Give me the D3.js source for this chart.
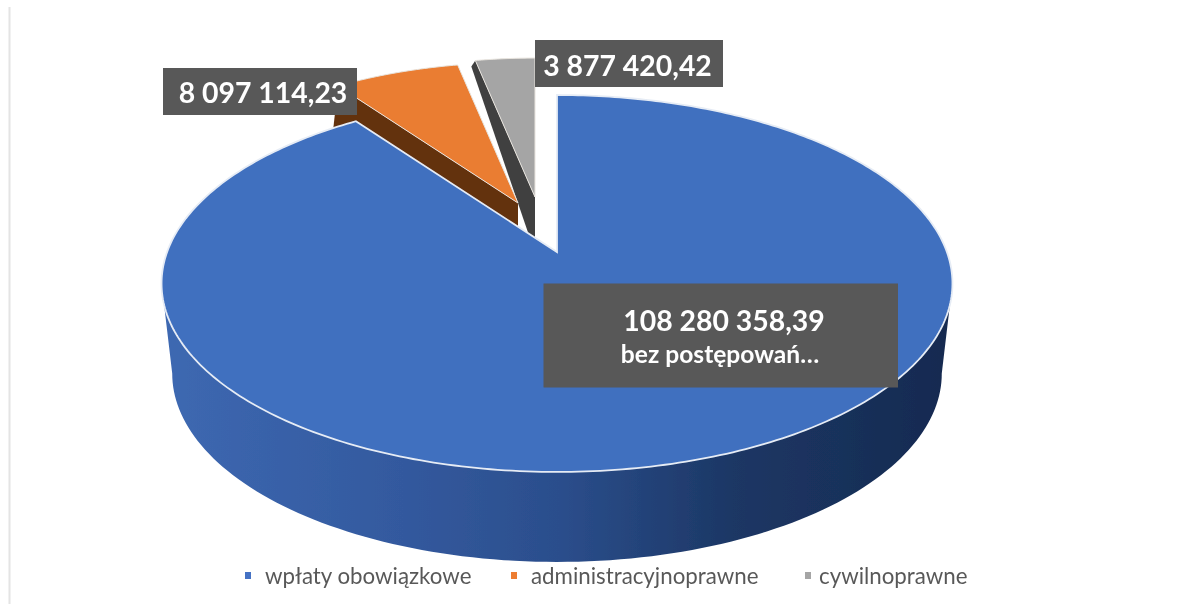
<!DOCTYPE html>
<html><head><meta charset="utf-8">
<script src="https://cdnjs.cloudflare.com/ajax/libs/d3/7.8.5/d3.min.js"></script>
<style>html,body{margin:0;padding:0;background:#fff}svg{display:block}text{font-family:Lato,"Open Sans",sans-serif}</style>
</head><body><svg id="c" width="1194" height="609"></svg>
<script>
const categories = ["wpłaty obowiązkowe", "administracyjnoprawne", "cywilnoprawne"];
const values = [108280358.39, 8097114.23, 3877420.42];
const valueLabels = ["108 280 358,39", "8 097 114,23", "3 877 420,42"];
const categoryNote = "bez postępowań…";
const topColors = ["#4170bf", "#ea7d31", "#a5a5a5"];
const wallColors = ["url(#blueSide)", "#63300f", "#404040"];
const legendColors = ["#4472c4", "#ed7d31", "#a5a5a5"];

const W = 1194, H = 609;
const svg = d3.select("#c");
const defs = svg.append("defs");
const grad = defs.append("linearGradient").attr("id", "blueSide")
  .attr("gradientUnits", "userSpaceOnUse").attr("x1", 170).attr("x2", 950).attr("y1", 0).attr("y2", 0);
[[0, "#3d68b1"], [0.3, "#33599e"], [0.5, "#2b4e8c"], [0.72, "#1c3765"], [1, "#162a50"]]
  .forEach(([o, c]) => grad.append("stop").attr("offset", o).attr("stop-color", c));
defs.append("filter").attr("id", "soft").append("feGaussianBlur").attr("stdDeviation", 0.6);

// perspective projection of the pie disk
const apex = { x: 557, y: 252 }, A = 389.9, B = 183.2, K = 0.167;
function project(theta, r, scale = 1, o = apex) {
  const u = r * Math.sin(theta), v = -r * Math.cos(theta), d = 1 - K * v;
  return [o.x + scale * A * u / d, o.y + scale * B * v / d];
}
const pie = d3.pie().sort(null).value(d => d);
const arcs = pie(values);
const line = d3.line();
const sample = (a, b, n = 120) => d3.range(n + 1).map(i => a + (b - a) * i / n);

// exploded slices: screen apex, shrink and wall depth
const explode = [
  { o: apex, s: 1 },
  { o: { x: 518, y: 203 }, s: 0.895, cornerDrop: { dx: -5, dy: 45 }, apexDrop: 45 },
  { o: { x: 535, y: 197 }, s: 0.885, cornerDrop: { dx: -4, dy: 6 }, apexDrop: 56 }
];

const g = svg.append("g").attr("filter", "url(#soft)");

// left frame line of the source picture
g.append("line").attr("x1", 9.5).attr("x2", 9.5).attr("y1", 7).attr("y2", 604)
  .attr("stroke", "#e4e4e4").attr("stroke-width", 2);

// back slices, far to near
[2, 1].forEach(i => {
  const a = arcs[i], e = explode[i];
  const c = project(a.startAngle, 1, e.s, e.o);
  g.append("path").attr("fill", wallColors[i]).attr("d", line([
    [e.o.x, e.o.y], c, [c[0] + e.cornerDrop.dx, c[1] + e.cornerDrop.dy], [e.o.x, e.o.y + e.apexDrop]
  ]) + "Z");
  const rim = sample(a.startAngle, a.endAngle, 30).map(t => project(t, 1, e.s, e.o));
  g.append("path").attr("fill", topColors[i]).attr("stroke", "#e8e4de").attr("stroke-width", 1)
    .attr("d", line([[e.o.x, e.o.y], ...rim]) + "Z");
});

// blue wall
const sideFrom = 99.6 * Math.PI / 180, sideTo = 260.4 * Math.PI / 180;
const baseScale = 0.973, baseDrop = 90;
const topRim = sample(sideFrom, sideTo).map(t => project(t, 1));
const baseRim = sample(sideFrom, sideTo).map(t => {
  const [x, y] = project(t, 1);
  return [apex.x + (x - apex.x) * baseScale, y + baseDrop];
});
g.append("path").attr("fill", wallColors[0]).attr("d", line([...topRim, ...baseRim.reverse()]) + "Z");

// blue top
const blue = arcs[0];
const blueRim = sample(blue.startAngle, blue.endAngle, 360).map(t => project(t, 1));
g.append("path").attr("fill", topColors[0]).attr("stroke", "#e6ecf5").attr("stroke-width", 1.8)
  .attr("d", line([[apex.x, apex.y], ...blueRim]) + "Z");

// data labels
const labelBoxes = [
  { x: 543.5, y: 283.5, w: 354.5, h: 104, tx: 724, ty: 331, fs: 28.4 },
  { x: 163, y: 68, w: 194, h: 47, tx: 263, ty: 103, fs: 28.4 },
  { x: 535, y: 40, w: 188, h: 47, tx: 627.5, ty: 76, fs: 28.4 }
];
const lab = g.selectAll("g.lab").data(valueLabels).join("g").attr("class", "lab");
lab.append("rect").attr("x", (d, i) => labelBoxes[i].x).attr("y", (d, i) => labelBoxes[i].y)
  .attr("width", (d, i) => labelBoxes[i].w).attr("height", (d, i) => labelBoxes[i].h).attr("fill", "#595959");
lab.append("text").text(d => d).attr("x", (d, i) => labelBoxes[i].tx).attr("y", (d, i) => labelBoxes[i].ty)
  .attr("text-anchor", "middle").attr("fill", "#fff").attr("font-weight", 700)
  .attr("font-size", (d, i) => labelBoxes[i].fs);
g.append("text").text(categoryNote).attr("x", 720).attr("y", 363).attr("text-anchor", "middle")
  .attr("fill", "#fff").attr("font-weight", 700).attr("font-size", 24.6);

// legend
const legendPos = [{ m: 245, t: 265 }, { m: 511, t: 531 }, { m: 805, t: 819 }];
const leg = g.selectAll("g.leg").data(categories).join("g").attr("class", "leg");
leg.append("rect").attr("x", (d, i) => legendPos[i].m).attr("y", 572).attr("width", 6).attr("height", 7)
  .attr("fill", (d, i) => legendColors[i]);
leg.append("text").text(d => d).attr("x", (d, i) => legendPos[i].t).attr("y", 584)
  .attr("font-size", 22.3).attr("fill", "#595959");
</script></body></html>
